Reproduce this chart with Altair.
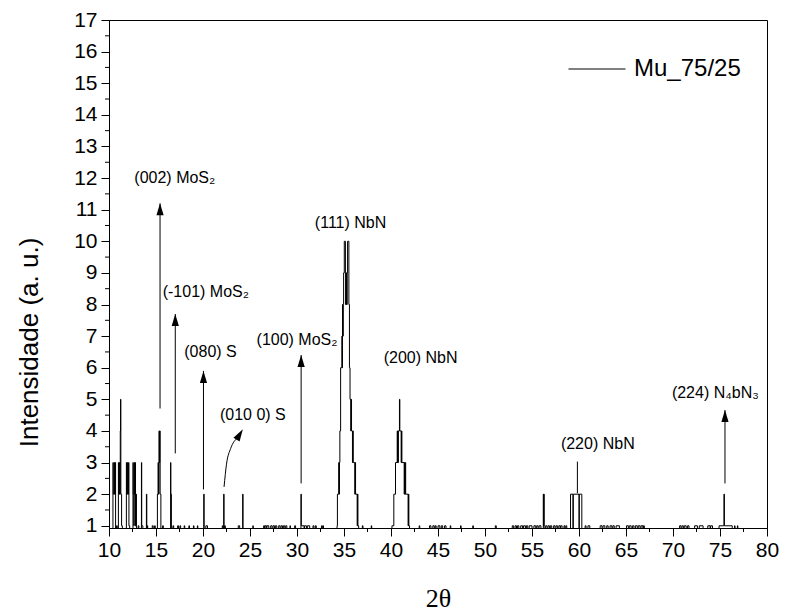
import altair as alt
import pandas as pd

sample_name = "Mu_75/25"

# XRD scan (step data: value holds until next 2theta)
scan_2theta = [
    10.00, 10.42, 10.46, 10.58, 10.62, 10.66, 10.70, 10.80, 10.88,
    11.00, 11.04, 11.10, 11.14, 11.20, 11.23, 11.26, 11.34, 11.42,
    11.85, 11.89, 11.95, 11.99, 12.08, 12.12, 12.20,
    12.55, 12.58, 12.64, 12.68, 12.72, 12.78, 12.82, 12.88, 12.92,
    13.10, 13.18, 13.45, 13.48, 13.60, 13.98, 14.02, 14.05, 14.12,
    14.60, 14.70, 14.85, 14.92,
    15.15, 15.22, 15.26, 15.32, 15.36, 15.40, 15.44, 15.52, 15.70, 15.78,
    16.55, 16.58, 16.64, 16.80, 16.88,
    17.30, 17.40, 17.55, 17.62, 18.00, 18.06, 18.50, 18.56, 18.98, 19.04, 19.40, 19.45,
    20.08, 20.12, 20.30, 20.48,
    22.05, 22.12, 22.20, 22.24, 22.30, 22.38, 23.75, 23.90, 24.22, 24.26,
    25.30, 25.35, 26.45, 26.55, 26.60, 26.75, 26.80, 27.00,
    27.20, 27.35, 27.45, 27.60, 27.70, 27.85, 28.05, 28.20, 28.30, 28.45,
    28.55, 28.70, 28.80, 28.92, 29.25, 29.30, 29.75, 29.85,
    30.42, 30.46, 30.75, 30.80, 31.00, 31.10, 31.35, 31.70, 31.80, 31.95, 32.05,
    32.60, 32.68, 32.75, 32.82,
    34.26, 34.30, 34.44, 34.48, 34.52, 34.56, 34.64, 34.78, 34.81, 34.84, 34.88, 34.92, 34.96,
    35.03, 35.15, 35.18, 35.21, 35.24, 35.27, 35.30, 35.33, 35.38,
    35.52, 35.58, 35.64, 35.72, 35.76, 35.80, 35.90, 35.94, 35.98,
    36.15, 36.19, 36.23, 36.40, 36.44, 36.48, 36.56, 36.95, 37.02, 37.90, 37.95,
    40.10, 40.30, 40.48, 40.66, 40.69, 40.72, 40.75, 40.78, 40.90, 40.94,
    41.08, 41.12, 41.16, 41.40, 41.44, 41.48, 41.52, 41.56, 41.82, 41.86, 41.90, 41.97,
    43.00, 43.06, 44.10, 44.25, 44.45, 44.60, 44.70, 44.80, 45.00, 45.20, 45.35, 45.50,
    45.70, 45.85, 46.30, 46.36, 47.40, 47.46, 48.70, 48.76, 51.10, 51.20,
    52.90, 53.05, 53.20, 53.35, 53.45, 53.60, 53.80, 54.00, 54.10, 54.30, 54.40, 54.55,
    54.70, 55.00, 55.20, 55.40, 55.50, 55.65, 55.75, 55.95,
    56.20, 56.24, 56.26, 56.29, 56.45, 56.60, 56.70, 56.85, 56.95, 57.10,
    57.30, 57.45, 57.55, 57.70, 57.85, 58.00, 58.05, 58.20, 58.40, 58.50, 58.60, 58.70,
    59.10, 59.36, 59.39, 60.00, 60.03, 60.30,
    60.65, 60.75, 60.95, 61.15, 62.25, 62.45, 62.55, 62.75, 62.95, 63.10, 63.30, 63.50,
    63.60, 63.75, 63.95, 64.30, 65.05, 65.25, 65.35, 65.55, 65.70, 65.85, 66.00, 66.20,
    66.30, 66.50, 66.60, 66.80, 66.85, 66.95,
    70.70, 70.85, 70.95, 71.10, 71.20, 71.40, 71.55, 71.70, 72.30, 72.60, 72.80, 73.20,
    73.70, 73.95, 74.00, 74.20, 74.90, 75.42, 75.47, 76.30, 76.55, 76.60, 76.85, 76.90,
    80.00,
]
scan_counts = [
    0, 3, 2, 3, 2, 3, 0, 1, 0,
    3, 2, 3, 2, 4, 5, 2, 1, 0,
    3, 2, 3, 2, 3, 1, 0,
    3, 2, 1, 3, 2, 3, 1, 2, 0,
    1, 0, 3, 1, 0, 2, 0, 1, 0,
    1, 0, 1, 0,
    2, 3, 2, 4, 3, 4, 2, 0, 1, 0,
    3, 2, 0, 1, 0,
    1, 0, 1, 0, 1, 0, 1, 0, 1, 0, 1, 0,
    2, 0, 1, 0,
    1, 0, 2, 0, 1, 0, 1, 0, 2, 0,
    1, 0, 1, 0, 1, 0, 1, 0,
    1, 0, 1, 0, 1, 0, 1, 0, 1, 0,
    1, 0, 1, 0, 1, 0, 1, 0,
    2, 1, 0, 1, 0, 1, 0, 1, 0, 1, 0,
    1, 0, 1, 0,
    1, 2, 3, 2, 3, 4, 6, 7, 6, 8, 7, 8, 9,
    10, 9, 8, 9, 8, 9, 8, 9, 10,
    8, 6, 5, 4, 5, 4, 3, 4, 3,
    2, 3, 2, 1, 2, 1, 0, 1, 0, 1, 0,
    1, 2, 3, 4, 3, 4, 3, 4, 5, 4,
    3, 4, 3, 2, 3, 2, 3, 2, 1, 2, 1, 0,
    1, 0, 1, 0, 1, 0, 1, 0, 1, 0, 1, 0,
    1, 0, 1, 0, 1, 0, 1, 0, 1, 0,
    1, 0, 1, 0, 1, 0, 1, 0, 1, 0, 1, 0,
    1, 0, 1, 0, 1, 0, 1, 0,
    2, 1, 2, 0, 1, 0, 1, 0, 1, 0,
    1, 0, 1, 0, 1, 0, 1, 0, 1, 0, 1, 0,
    2, 0, 2, 0, 2, 0,
    1, 0, 1, 0, 1, 0, 1, 0, 1, 0, 1, 0,
    1, 0, 1, 0, 1, 0, 1, 0, 1, 0, 1, 0,
    1, 0, 1, 0, 1, 0,
    1, 0, 1, 0, 1, 0, 1, 0, 1, 0, 1, 0,
    1, 0, 1, 0, 1, 2, 1, 0, 1, 0, 1, 0,
    0,
]

# annotations
ann_labels = ["(002) MoS₂", "(-101) MoS₂", "(080) S", "(010 0) S", "(100) MoS₂",
              "(111) NbN", "(200) NbN", "(220) NbN", "(224) N₄bN₃"]
ann_x = [17.0, 20.3, 20.8, 25.3, 30.0, 35.7, 43.15, 62.0, 74.5]
ann_y = [12.0, 8.4, 6.5, 4.5, 6.87, 10.57, 6.31, 3.6, 5.19]

arrow_x = [15.43, 17.05, 20.05, 30.44, 75.53]
arrow_from = [4.71, 3.29, 2.15, 2.34, 2.34]
arrow_tip = [11.2, 7.7, 5.9, 6.4, 4.66]

plain_x = [59.83]
plain_from = [2.03]
plain_to = [3.03]

curve_x = [22.24, 22.50, 22.95, 23.64]
curve_y = [2.23, 2.95, 3.45, 3.77]
curve_tip = (24.24, 4.05, 32)

x_major = list(range(10, 81, 5))
x_minor = [12.5 + 5 * i for i in range(14)]
y_major = list(range(1, 18))
y_minor = [1.5 + i for i in range(16)]

W, H = 658, 508
FONT = "Liberation Sans"
xs = alt.Scale(domain=[10, 80], nice=False, zero=False)
ys = alt.Scale(domain=[0.93, 17], nice=False, zero=False)

x_axis = alt.Axis(
    title="2θ", values=x_major, format="d", tickSize=8, labelPadding=3,
    labelFontSize=21, labelFlush=False, labelOverlap=False,
    titleFont="Liberation Serif", titleFontSize=26,
    titleFontWeight="normal", titleY=70, titleBaseline="middle")
y_axis = alt.Axis(
    title="Intensidade (a. u.)", values=y_major, format="d", tickSize=8,
    labelPadding=4, labelFontSize=21, labelFlush=False, labelOverlap=False,
    titleFontSize=26, titleFontWeight="normal",
    titleX=-80, titleY=322, titleAlign="center", titleBaseline="middle")


def X(field):
    return alt.X(field, scale=xs, axis=x_axis)


def Y(field):
    return alt.Y(field, scale=ys, axis=y_axis)


scan = pd.DataFrame({"tt": scan_2theta, "cnt": scan_counts, "serie": sample_name})

line = alt.Chart(scan).mark_line(interpolate="step-after", strokeWidth=1, clip=True).encode(
    x=X("tt:Q"),
    y=Y("cnt:Q"),
    color=alt.Color("serie:N", scale=alt.Scale(domain=[sample_name], range=["black"]),
                    legend=alt.Legend(title=None, orient="none", legendX=459, legendY=20,
                                      symbolType="stroke", symbolSize=3249,
                                      symbolStrokeWidth=1, labelFontSize=24,
                                      labelFont=FONT, labelOffset=8, padding=0)),
)

ymin = alt.Chart(pd.DataFrame({"v": y_minor})).mark_rule(color="black", strokeWidth=1).encode(
    y=Y("v:Q"), x=alt.value(-4), x2=alt.value(0))
xmin = alt.Chart(pd.DataFrame({"v": x_minor})).mark_rule(color="black", strokeWidth=1).encode(
    x=X("v:Q"), y=alt.value(H), y2=alt.value(H + 4))

arrows_df = pd.DataFrame({"x": arrow_x, "y0": arrow_from, "y1": arrow_tip})
arrows = alt.Chart(arrows_df).mark_rule(color="black", strokeWidth=1).encode(
    x=X("x:Q"), y=Y("y0:Q"), y2="y1:Q")
plain = alt.Chart(pd.DataFrame({"x": plain_x, "y0": plain_from, "y1": plain_to})).mark_rule(
    color="black", strokeWidth=1).encode(x=X("x:Q"), y=Y("y0:Q"), y2="y1:Q")

heads_df = pd.DataFrame({
    "x": arrow_x + [curve_tip[0]],
    "y": arrow_tip + [curve_tip[1]],
    "a": [0] * len(arrow_x) + [curve_tip[2]],
})
HEAD = "M0,0L0.6,2L-0.6,2Z"
heads = alt.Chart(heads_df).mark_point(shape=HEAD, filled=True, color="black", size=144,
                                       opacity=1, strokeWidth=0).encode(
    x=X("x:Q"), y=Y("y:Q"), angle=alt.Angle("a:Q", scale=None))

curve = alt.Chart(pd.DataFrame({"x": curve_x, "y": curve_y})).mark_line(
    color="black", strokeWidth=1, interpolate="monotone").encode(x=X("x:Q"), y=Y("y:Q"))

labels = alt.Chart(pd.DataFrame({"t": ann_labels, "x": ann_x, "y": ann_y})).mark_text(
    font=FONT, fontSize=16, color="black", align="center", baseline="middle").encode(
    x=X("x:Q"), y=Y("y:Q"), text="t:N")

chart = alt.layer(line, ymin, xmin, arrows, plain, curve, heads, labels).properties(
    width=W, height=H, autosize="none",
    padding={"left": 101, "top": 12, "right": 12, "bottom": 86},
).configure_axis(
    domainColor="black", tickColor="black", labelColor="black", titleColor="black",
    grid=False, domainWidth=1, tickWidth=1, labelFont=FONT, titleFont=FONT,
).configure_view(stroke="black", strokeWidth=1)

chart.save("out.html", embed_options={"renderer": "svg", "actions": False})
